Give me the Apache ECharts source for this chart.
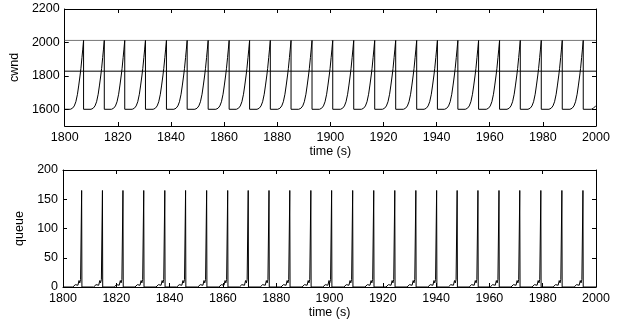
<!DOCTYPE html>
<html>
<head>
<meta charset="utf-8">
<script src="https://cdn.jsdelivr.net/npm/echarts@6/dist/echarts.min.js"></script>
<style>
html,body{margin:0;padding:0;background:#fff;}
#chart{width:625px;height:326px;}
</style>
</head>
<body>
<div id="chart"></div>
<script>
// ---- data ----
const xTicks = [1800, 1820, 1840, 1860, 1880, 1900, 1920, 1940, 1960, 1980, 2000];
const cwndTicks = [1600, 1800, 2000, 2200];
const queueTicks = [0, 50, 100, 150, 200];

// times at which cwnd drops / queue spike ends (s)
const dropTimes = [1807.1, 1814.9, 1822.6, 1830.4, 1838.3, 1846.1, 1854.0, 1861.9, 1869.6, 1877.4,
  1885.2, 1893.1, 1900.9, 1908.8, 1916.7, 1924.6, 1932.5, 1940.3, 1948.0, 1955.8,
  1963.7, 1971.5, 1979.4, 1987.3, 1995.2];

// cwnd rise before each drop (offset from drop time, value)
const cwndRiseOffsets = [-5.0, -4.2, -3.5, -2.9, -2.3, -1.8, -1.3, -1.0, -0.6, -0.3, 0];
const cwndRiseValues  = [1600, 1606, 1620, 1645, 1690, 1745, 1805, 1845, 1910, 1960, 2012];
const cwndAfterDrop = 1600;
const cwndStartTimes = [1800];
const cwndStartValues = [1600];
const cwndTailTimes = [1998.2, 1999.0, 2000];
const cwndTailValues = [1600, 1606, 1622];

// reference lines in cwnd panel
const cwndUpperLine = 2012;
const cwndMidLine = 1828;

// queue oscillation before each drop (offset from drop time, value)
const queueOffsets = [-3.4, -3.1, -2.8, -2.5, -2.2, -1.8, -1.5, -1.1, -0.8, -0.5, -0.1, 0];
const queueValues  = [0, 2, 0.5, 4, 1.5, 7, 3, 11, 7, 13, 165, 0];
const queueStartTimes = [1800];
const queueStartValues = [0];
const queueTailTimes = [2000];
const queueTailValues = [0];

// ---- build series data ----
const cwndData = [];
cwndStartTimes.forEach((t, i) => cwndData.push([t, cwndStartValues[i]]));
dropTimes.forEach(td => {
  cwndRiseOffsets.forEach((o, i) => cwndData.push([+(td + o).toFixed(2), cwndRiseValues[i]]));
  cwndData.push([td, cwndAfterDrop]);
});
cwndTailTimes.forEach((t, i) => cwndData.push([t, cwndTailValues[i]]));

const queueData = [];
queueStartTimes.forEach((t, i) => queueData.push([t, queueStartValues[i]]));
dropTimes.forEach(td => {
  queueOffsets.forEach((o, i) => queueData.push([+(td + o).toFixed(2), queueValues[i]]));
});
queueTailTimes.forEach((t, i) => queueData.push([t, queueTailValues[i]]));

const FONT = 'Liberation Sans, Arial, Helvetica, sans-serif';
const txt = {color: '#000', fontFamily: FONT, fontSize: 12.5};
const plain = v => String(v);
const line = {show: true, onZero: false, lineStyle: {color: '#000', width: 1}};
const tick = {show: true, inside: true, length: 4, lineStyle: {color: '#000', width: 1}};

function xAxes(gi) {
  return [
    {gridIndex: gi, type: 'value', min: 1800, max: 2000, interval: 20, position: 'bottom',
     axisLine: line, axisTick: tick,
     axisLabel: Object.assign({margin: 5, formatter: plain}, txt), splitLine: {show: false},
     name: 'time (s)', nameLocation: 'middle', nameGap: 19, nameTextStyle: txt},
    {gridIndex: gi, type: 'value', min: 1800, max: 2000, interval: 20, position: 'top',
     axisLine: line, axisTick: tick, axisLabel: {show: false}, splitLine: {show: false}}
  ];
}

const option = {
  animation: false,
  backgroundColor: '#fff',
  grid: [
    {left: 63, top: 9, width: 533, height: 117},
    {left: 63, top: 170, width: 533, height: 117}
  ],
  xAxis: xAxes(0).concat(xAxes(1)),
  yAxis: [
    {gridIndex: 0, type: 'value', min: 1500, max: 2200, position: 'left',
     axisLine: line,
     axisTick: Object.assign({customValues: cwndTicks}, tick),
     axisLabel: Object.assign({customValues: cwndTicks, margin: 5, formatter: plain}, txt),
     splitLine: {show: false},
     name: 'cwnd', nameLocation: 'middle', nameGap: 36, nameTextStyle: txt},
    {gridIndex: 0, type: 'value', min: 1500, max: 2200, position: 'right',
     axisLine: line,
     axisTick: Object.assign({customValues: cwndTicks}, tick),
     axisLabel: {show: false}, splitLine: {show: false}},
    {gridIndex: 1, type: 'value', min: 0, max: 200, interval: 50, position: 'left',
     axisLine: line, axisTick: tick,
     axisLabel: Object.assign({customValues: queueTicks, margin: 5, formatter: plain}, txt),
     splitLine: {show: false},
     name: 'queue', nameLocation: 'middle', nameGap: 26, nameTextStyle: txt},
    {gridIndex: 1, type: 'value', min: 0, max: 200, interval: 50, position: 'right',
     axisLine: line, axisTick: tick, axisLabel: {show: false}, splitLine: {show: false}}
  ],
  series: [
    {type: 'line', xAxisIndex: 0, yAxisIndex: 0, showSymbol: false, silent: true,
     data: [[xTicks[0], cwndUpperLine], [xTicks[xTicks.length - 1], cwndUpperLine]],
     lineStyle: {color: '#777', width: 1}},
    {type: 'line', xAxisIndex: 0, yAxisIndex: 0, showSymbol: false, silent: true,
     data: [[xTicks[0], cwndMidLine], [xTicks[xTicks.length - 1], cwndMidLine]],
     lineStyle: {color: '#000', width: 1}},
    {type: 'line', xAxisIndex: 0, yAxisIndex: 0, showSymbol: false, silent: true,
     data: cwndData, lineStyle: {color: '#000', width: 1}},
    {type: 'line', xAxisIndex: 2, yAxisIndex: 2, showSymbol: false, silent: true,
     data: queueData, lineStyle: {color: '#000', width: 1}}
  ]
};

const chart = echarts.init(document.getElementById('chart'), null, {renderer: 'canvas'});
chart.setOption(option);
</script>
</body>
</html>
